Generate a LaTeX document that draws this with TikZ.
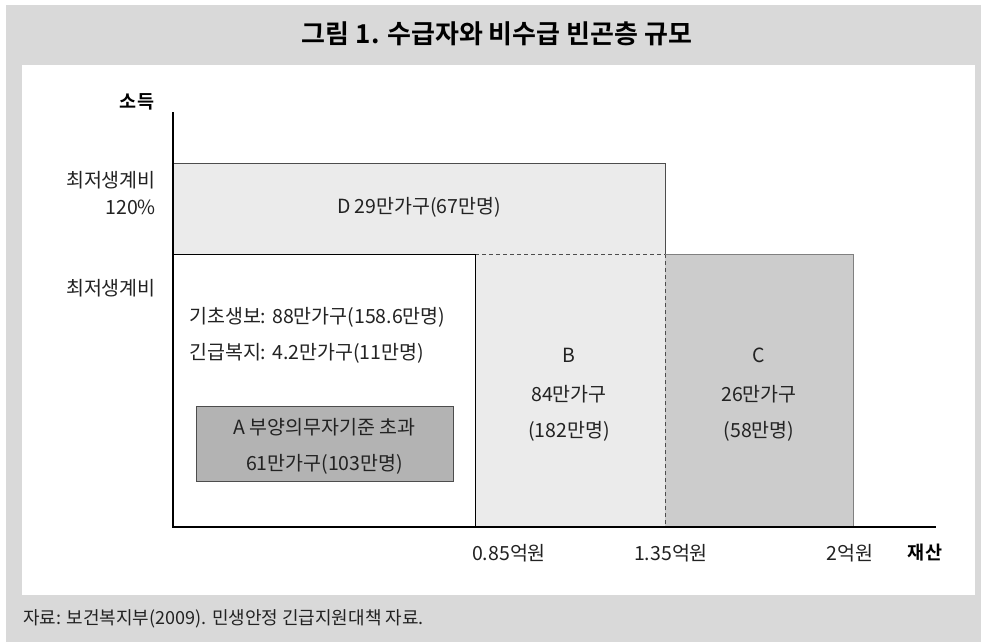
\documentclass[tikz,border=0pt]{standalone}
\usepackage{fontspec}
\setmainfont{Noto Sans CJK KR}[BoldFont={Noto Sans CJK KR Bold}]
\definecolor{panelgray}{HTML}{D9D9D9}
\definecolor{lightfill}{HTML}{EBEBEB}
\definecolor{midfill}{HTML}{CCCCCC}
\definecolor{darkfill}{HTML}{B3B3B3}
\definecolor{txt}{HTML}{222222}
\definecolor{edge}{HTML}{4D4D4D}
\tikzset{
  lbl/.style={inner sep=0pt, text=txt, font=\fontsize{19.5}{22}\selectfont},
  axislbl/.style={inner sep=0pt, text=black, font=\fontsize{18.5}{21}\selectfont\bfseries},
  axisline/.style={line width=1.3pt, black},
  boxedge/.style={line width=0.8pt, edge},
  dashedge/.style={line width=0.8pt, edge, dashed, dash pattern=on 4pt off 3pt}
}
\begin{document}
\begin{tikzpicture}[x=1pt,y=-1pt]
\useasboundingbox (0,0) rectangle (981,642);
\fill[white] (0,0) rectangle (981,642);
\fill[panelgray] (6,5) rectangle (981,642);
\fill[white] (22,65) rectangle (975,595);

% title
\node[inner sep=0pt, font=\fontsize{26}{29}\selectfont\bfseries] (title) at (497,34) {그림 1. 수급자와 비수급 빈곤층 규모};

% regions
\fill[lightfill] (173,163) rectangle (665,254);
\fill[lightfill] (475,254) rectangle (665,527);
\fill[midfill] (665,254) rectangle (853,527);
\draw[boxedge] (173,163) -- (665,163) -- (665,254);
\draw[line width=1pt, black] (173,254) -- (475,254);
\draw[dashedge] (475,254) -- (665,254);
\draw[dashedge] (665,254) -- (665,527);
\draw[line width=0.8pt, black] (475,254) -- (475,527);
\draw[boxedge, draw=gray] (665,254) -- (853,254) -- (853,527);

% A box
\filldraw[fill=darkfill, draw=edge, line width=0.8pt] (196,406) rectangle (453,481);

% axes
\coordinate (origin) at (173,527);
\coordinate (ytop) at (173,112);
\coordinate (xend) at (936,527);
\draw[axisline] (ytop) -- (origin) -- (xend);

% axis labels
\node[axislbl] (soduk) at (137,102) {소득};
\node[axislbl] (jaesan) at (925,553) {재산};

% y labels
\node[lbl, anchor=east] (min120a) at (156,180) {최저생계비};
\node[lbl, anchor=east] (min120b) at (156,207) {120\%};
\node[lbl, anchor=east] (min100) at (156,288) {최저생계비};

% x labels
\node[lbl] (x085) at (509,553) {0.85억원};
\node[lbl] (x135) at (671,553) {1.35억원};
\node[lbl] (x2) at (850,553) {2억원};

% D
\node[lbl] (dtext) at (419,207) {D 29만가구(67만명)};

% left white region
\node[lbl, anchor=west] (gicho) at (189,317) {기초생보: 88만가구(158.6만명)};
\node[lbl, anchor=west] (gingeup) at (189,353) {긴급복지: 4.2만가구(11만명)};
\node[lbl] (a1) at (324.5,427) {A 부양의무자기준 초과};
\node[lbl] (a2) at (324.5,464) {61만가구(103만명)};

% B
\node[lbl] (b1) at (569,355) {B};
\node[lbl] (b2) at (569,394) {84만가구};
\node[lbl] (b3) at (569,431) {(182만명)};

% C
\node[lbl] (c1) at (759,355) {C};
\node[lbl] (c2) at (759,394) {26만가구};
\node[lbl] (c3) at (759,431) {(58만명)};

% footer
\node[inner sep=0pt, anchor=west, text=txt, font=\fontsize{18}{21}\selectfont] (src) at (23,619) {자료: 보건복지부(2009). 민생안정 긴급지원대책 자료.};
\end{tikzpicture}
\end{document}
